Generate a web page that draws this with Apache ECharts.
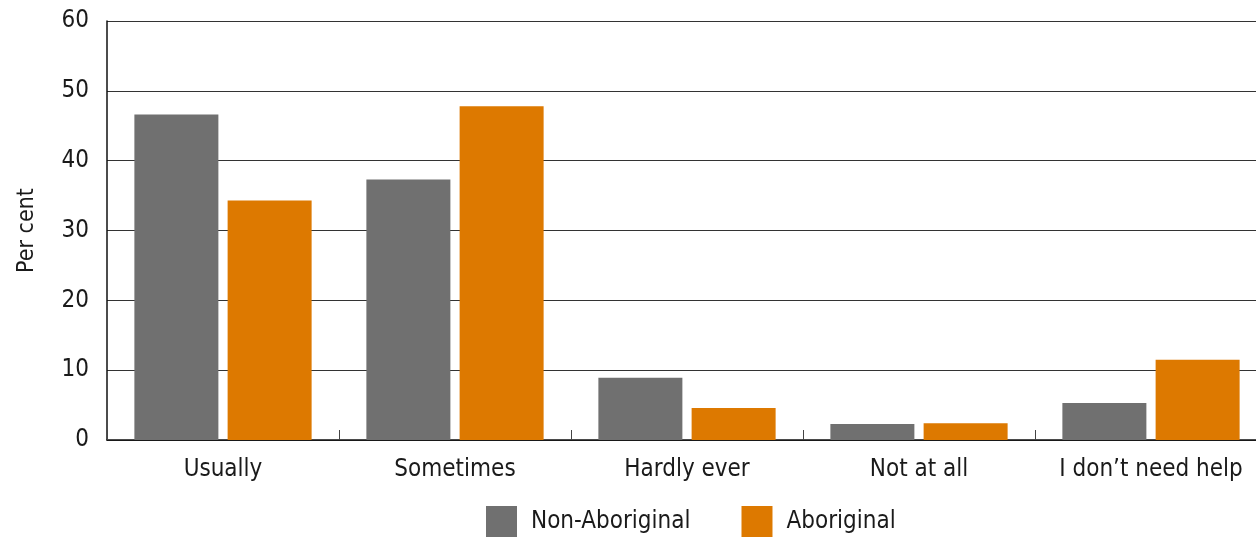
<!DOCTYPE html>
<html>
<head>
<meta charset="utf-8">
<script src="https://cdn.jsdelivr.net/npm/echarts@6/dist/echarts.min.js"></script>
<style>
  html, body { margin: 0; padding: 0; background: #fff; overflow: hidden; }
  /* plot runs past the right edge of the picture, as in the original */
  #main { width: 1267px; height: 538px; }
</style>
</head>
<body>
<div id="main"></div>
<script>
var categories = ['Usually', 'Sometimes', 'Hardly ever', 'Not at all', 'I don\u2019t need help'];
var nonAboriginal = [46.6, 37.3, 8.9, 2.3, 5.3];
var aboriginal = [34.3, 47.8, 4.6, 2.4, 11.5];
var seriesNames = ['Non-Aboriginal', 'Aboriginal'];

var font = '"Liberation Sans Narrow", "DejaVu Sans Condensed", "Roboto", sans-serif';

var myChart = echarts.init(document.getElementById('main'));
var option = {
  animation: false,
  textStyle: { fontFamily: font },
  grid: { left: 107, right: 0, top: 21, bottom: 98, containLabel: false },
  legend: {
    data: seriesNames,
    bottom: -4,
    left: 481,
    itemWidth: 31,
    itemHeight: 31,
    itemGap: 51,
    icon: 'rect',
    textStyle: { fontSize: 24, color: '#1a1a1a', fontFamily: font, padding: [0, 0, 0, 9] }
  },
  xAxis: {
    type: 'category',
    data: categories,
    axisLine: { lineStyle: { color: '#111', width: 1.5 } },
    axisTick: { show: true, inside: true, interval: 0, length: 10, lineStyle: { color: '#444' } },
    axisLabel: { interval: 0, fontSize: 24, color: '#1a1a1a', margin: 18, fontFamily: font }
  },
  yAxis: {
    type: 'value',
    min: 0,
    max: 60,
    interval: 10,
    name: 'Per cent',
    nameLocation: 'middle',
    nameGap: 68,
    nameTextStyle: { fontSize: 23, color: '#1a1a1a', fontFamily: font },
    axisLine: { show: true, lineStyle: { color: '#111', width: 1.5 } },
    axisTick: { show: false },
    axisLabel: { fontSize: 24, color: '#1a1a1a', margin: 18, fontFamily: font },
    splitLine: { lineStyle: { color: '#333', width: 1 } }
  },
  series: [
    {
      name: seriesNames[0],
      type: 'bar',
      data: nonAboriginal,
      barWidth: 84,
      barGap: '11%',
      itemStyle: { color: '#707070' }
    },
    {
      name: seriesNames[1],
      type: 'bar',
      data: aboriginal,
      barWidth: 84,
      itemStyle: { color: '#DD7900' }
    }
  ]
};
myChart.setOption(option);
</script>
</body>
</html>
